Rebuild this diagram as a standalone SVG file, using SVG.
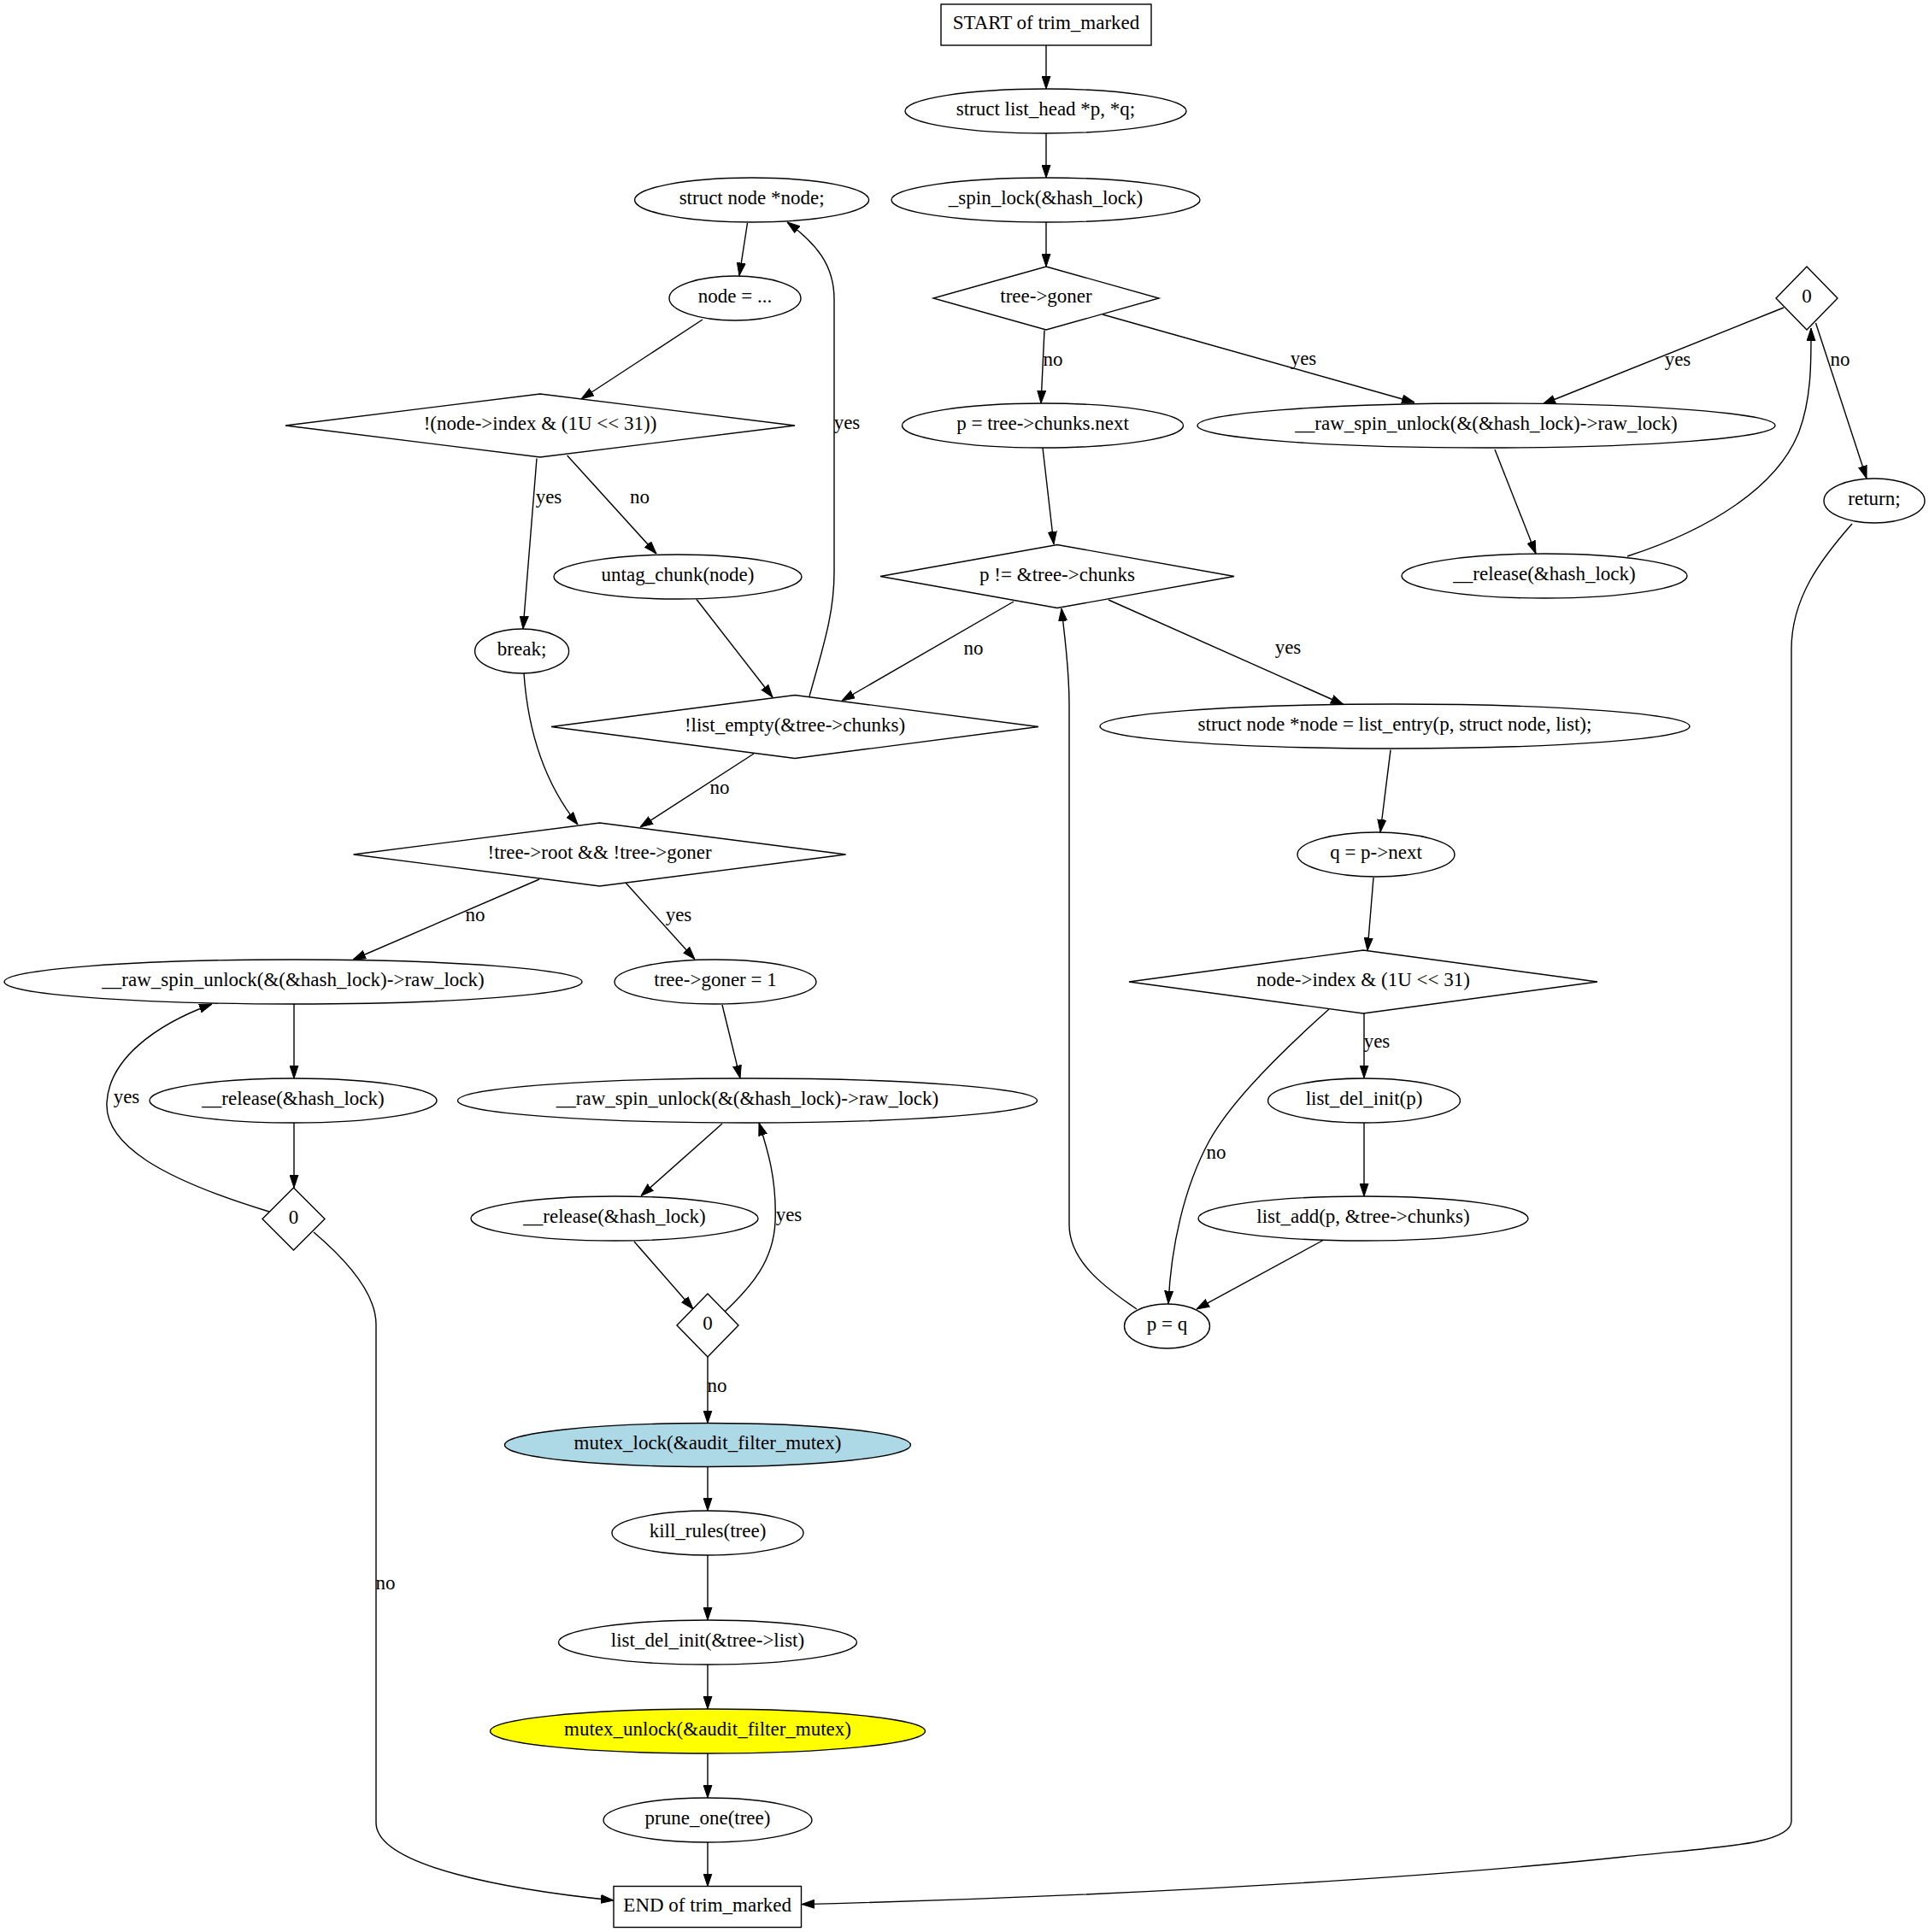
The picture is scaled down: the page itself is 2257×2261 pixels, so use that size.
<svg xmlns="http://www.w3.org/2000/svg" width="2257" height="2261" viewBox="0 0 2257 2261">
<style>
.n ellipse,.n polygon,.n rect{fill:#fff;stroke:#000;stroke-width:1.4}
.n text,.lbl{font-family:"Liberation Serif","Times New Roman",serif;font-size:23px;fill:#000;text-anchor:middle}
.e path{fill:none;stroke:#000;stroke-width:1.4;marker-end:url(#ah)}
</style>
<defs>
<marker id="ah" markerUnits="userSpaceOnUse" markerWidth="15" markerHeight="11" viewBox="0 0 15 10" refX="15" refY="5" orient="auto">
<path d="M0,0 L15,5 L0,10 z" fill="#000" stroke="#000" stroke-width="1"/>
</marker>
</defs>
<rect width="2257" height="2261" fill="#fff"/>
<g id="edges" class="e">
<path d="M1224,53 L1224,104"/>
<path d="M1224,156 L1224,208"/>
<path d="M1224,260 L1224,312"/>
<path d="M1222,386.5 L1218,472"/>
<path d="M1290,368 L1655,471"/>
<path d="M2087,360 L1805,473"/>
<path d="M2124.5,378 L2184,560"/>
<path d="M1749,526 L1797,648"/>
<path d="M1904,651 C2000,620 2080,570 2105,505 C2120,465 2119,420 2119,384"/>
<path d="M2167,613 C2130,655 2096,700 2096,760 L2096,2131 C2096,2160 2000,2162 1900,2173 C1600,2205 1200,2222 938,2228.6"/>
<path d="M1220,524 L1233,637"/>
<path d="M1297,702 L1572,824.5"/>
<path d="M1186,704 L985,820"/>
<path d="M1627,877.7 L1615,974"/>
<path d="M1607,1027 L1600,1112.5"/>
<path d="M1596,1186 L1596,1261.6"/>
<path d="M1555,1181 C1500,1230 1440,1290 1415,1335 C1385,1390 1370,1460 1367,1525.6"/>
<path d="M1596,1314 L1596,1400"/>
<path d="M1548,1451.5 L1400,1532"/>
<path d="M1330,1532 C1290,1505 1251,1475 1251,1433 L1251,824 C1251,780 1245,740 1242,712"/>
<path d="M874.5,261 L865,322.6"/>
<path d="M822,374 L680,467"/>
<path d="M628,536.5 L612,736"/>
<path d="M663.6,533 L768,648"/>
<path d="M815,701.5 L904,816"/>
<path d="M947,815 C962,760 976,720 976,670 L976,350 C976,310 955,285 921,260"/>
<path d="M882,882 L749,968"/>
<path d="M613,788 C618,860 640,920 676,965"/>
<path d="M631,1029 L413,1123"/>
<path d="M732,1033 L813,1122.7"/>
<path d="M344,1175 L344,1262"/>
<path d="M344,1314 L344,1390"/>
<path d="M315,1418 C190,1380 122,1340 125,1290 C128,1240 180,1200 248,1175"/>
<path d="M367,1442 C400,1470 440,1510 440,1550 L440,2133 C440,2185 600,2212 718,2224"/>
<path d="M845,1176 L866,1261.7"/>
<path d="M845,1315 L750,1399.4"/>
<path d="M742,1453 L811,1532"/>
<path d="M848,1535 C880,1505 905,1475 907,1430 C909,1380 898,1345 888,1314"/>
<path d="M828,1588 L828,1665.5"/>
<path d="M828,1716.5 L828,1768"/>
<path d="M828,1820 L828,1896"/>
<path d="M828,1948 L828,2000"/>
<path d="M828,2052 L828,2104"/>
<path d="M828,2156 L828,2207.5"/>
<text class="lbl" x="1232" y="428">no</text>
<text class="lbl" x="1525" y="427">yes</text>
<text class="lbl" x="1963" y="428">yes</text>
<text class="lbl" x="2153" y="428">no</text>
<text class="lbl" x="1507" y="765">yes</text>
<text class="lbl" x="1139" y="766">no</text>
<text class="lbl" x="1611" y="1226">yes</text>
<text class="lbl" x="1423" y="1356">no</text>
<text class="lbl" x="642" y="589">yes</text>
<text class="lbl" x="748.5" y="589">no</text>
<text class="lbl" x="991" y="502">yes</text>
<text class="lbl" x="842" y="929">no</text>
<text class="lbl" x="556" y="1078">no</text>
<text class="lbl" x="794" y="1078">yes</text>
<text class="lbl" x="148" y="1291">yes</text>
<text class="lbl" x="451" y="1860">no</text>
<text class="lbl" x="923" y="1429">yes</text>
<text class="lbl" x="839" y="1629">no</text>
</g>
<g id="n_start" class="n"><rect x="1101" y="5" width="246" height="48"/><text x="1224" y="34">START of trim_marked</text></g>
<g id="n_listhead" class="n"><ellipse cx="1223.5" cy="130" rx="164.5" ry="26"/><text x="1223.5" y="135">struct list_head *p, *q;</text></g>
<g id="n_spinlock" class="n"><ellipse cx="1223.5" cy="234" rx="180.5" ry="26"/><text x="1223.5" y="239">_spin_lock(&amp;hash_lock)</text></g>
<g id="n_goner" class="n"><polygon points="1224,312 1356,349 1224,386 1092,349"/><text x="1224" y="354">tree-&gt;goner</text></g>
<g id="n_zero_r" class="n"><polygon points="2114,312 2150,349 2114,386 2078,349"/><text x="2114" y="354">0</text></g>
<g id="n_unlock_r" class="n"><ellipse cx="1739" cy="498" rx="338" ry="26"/><text x="1739" y="503">__raw_spin_unlock(&amp;(&amp;hash_lock)-&gt;raw_lock)</text></g>
<g id="n_release_r" class="n"><ellipse cx="1807" cy="674" rx="167" ry="26"/><text x="1807" y="679">__release(&amp;hash_lock)</text></g>
<g id="n_return" class="n"><ellipse cx="2193" cy="586" rx="59" ry="26"/><text x="2193" y="591">return;</text></g>
<g id="n_pnext" class="n"><ellipse cx="1220" cy="498" rx="164.5" ry="26"/><text x="1220" y="503">p = tree-&gt;chunks.next</text></g>
<g id="n_pne" class="n"><polygon points="1237,637.5 1444,674.5 1237,711.5 1030,674.5"/><text x="1237" y="679.5">p != &amp;tree-&gt;chunks</text></g>
<g id="n_entry" class="n"><ellipse cx="1632" cy="850" rx="345" ry="26"/><text x="1632" y="855">struct node *node = list_entry(p, struct node, list);</text></g>
<g id="n_qnext" class="n"><ellipse cx="1610" cy="1000" rx="92" ry="26"/><text x="1610" y="1005">q = p-&gt;next</text></g>
<g id="n_index" class="n"><polygon points="1595,1112 1869,1149 1595,1186 1321,1149"/><text x="1595" y="1154">node-&gt;index &amp; (1U &lt;&lt; 31)</text></g>
<g id="n_delinit_p" class="n"><ellipse cx="1596" cy="1288" rx="112.5" ry="26"/><text x="1596" y="1293">list_del_init(p)</text></g>
<g id="n_listadd" class="n"><ellipse cx="1595" cy="1426" rx="193" ry="26"/><text x="1595" y="1431">list_add(p, &amp;tree-&gt;chunks)</text></g>
<g id="n_peqq" class="n"><ellipse cx="1365.5" cy="1552" rx="50" ry="26"/><text x="1365.5" y="1557">p = q</text></g>
<g id="n_structnode" class="n"><ellipse cx="879.6" cy="234" rx="137" ry="26"/><text x="879.6" y="239">struct node *node;</text></g>
<g id="n_nodeeq" class="n"><ellipse cx="860" cy="349" rx="77" ry="26"/><text x="860" y="354">node = ...</text></g>
<g id="n_notindex" class="n"><polygon points="632,461 930,498 632,535 334,498"/><text x="632" y="503">!(node-&gt;index &amp; (1U &lt;&lt; 31))</text></g>
<g id="n_untag" class="n"><ellipse cx="793" cy="675" rx="145" ry="26"/><text x="793" y="680">untag_chunk(node)</text></g>
<g id="n_break" class="n"><ellipse cx="610.6" cy="762" rx="55" ry="26"/><text x="610.6" y="767">break;</text></g>
<g id="n_listempty" class="n"><polygon points="930,813.5 1215,850.5 930,887.5 645,850.5"/><text x="930" y="855.5">!list_empty(&amp;tree-&gt;chunks)</text></g>
<g id="n_root" class="n"><polygon points="701.6,963 989.6,1000 701.6,1037 413.6,1000"/><text x="701.6" y="1005">!tree-&gt;root &amp;&amp; !tree-&gt;goner</text></g>
<g id="n_unlock_l" class="n"><ellipse cx="343" cy="1149" rx="338" ry="26"/><text x="343" y="1154">__raw_spin_unlock(&amp;(&amp;hash_lock)-&gt;raw_lock)</text></g>
<g id="n_release_l" class="n"><ellipse cx="343" cy="1288" rx="168" ry="26"/><text x="343" y="1293">__release(&amp;hash_lock)</text></g>
<g id="n_zero_l" class="n"><polygon points="343.5,1390 380,1426.5 343.5,1463 307,1426.5"/><text x="343.5" y="1431.5">0</text></g>
<g id="n_goner1" class="n"><ellipse cx="837" cy="1149" rx="118" ry="26"/><text x="837" y="1154">tree-&gt;goner = 1</text></g>
<g id="n_unlock_m" class="n"><ellipse cx="874.5" cy="1288" rx="339" ry="26"/><text x="874.5" y="1293">__raw_spin_unlock(&amp;(&amp;hash_lock)-&gt;raw_lock)</text></g>
<g id="n_release_m" class="n"><ellipse cx="719" cy="1426" rx="168" ry="26"/><text x="719" y="1431">__release(&amp;hash_lock)</text></g>
<g id="n_zero_m" class="n"><polygon points="828,1514 864,1551 828,1588 792,1551"/><text x="828" y="1556">0</text></g>
<g id="n_mutexlock" class="n"><ellipse cx="828" cy="1691" rx="237.5" ry="25.5" style="fill:#add8e6"/><text x="828" y="1696">mutex_lock(&amp;audit_filter_mutex)</text></g>
<g id="n_killrules" class="n"><ellipse cx="828" cy="1794" rx="112" ry="26"/><text x="828" y="1799">kill_rules(tree)</text></g>
<g id="n_delinit_list" class="n"><ellipse cx="828" cy="1922" rx="174.5" ry="26"/><text x="828" y="1927">list_del_init(&amp;tree-&gt;list)</text></g>
<g id="n_mutexunlock" class="n"><ellipse cx="828" cy="2026" rx="254.5" ry="26" style="fill:#ffff00"/><text x="828" y="2031">mutex_unlock(&amp;audit_filter_mutex)</text></g>
<g id="n_prune" class="n"><ellipse cx="828" cy="2130" rx="122" ry="26"/><text x="828" y="2135">prune_one(tree)</text></g>
<g id="n_end" class="n"><rect x="718" y="2207.5" width="219.5" height="48"/><text x="827.7" y="2236.5">END of trim_marked</text></g>
</svg>
